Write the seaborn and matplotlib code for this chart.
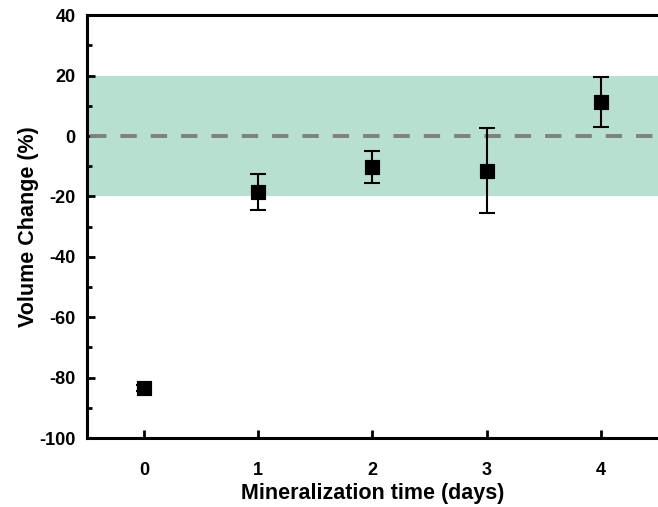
import numpy as np
import matplotlib
matplotlib.use("Agg")
import matplotlib.pyplot as plt
import seaborn as sns
from matplotlib.ticker import MultipleLocator

# data
days = [0, 1, 2, 3, 4]
volume_change = [-83.5, -18.5, -10.3, -11.5, 11.3]
volume_err = [1.0, 6.0, 5.3, 14.0, 8.2]

sns.set_style("ticks")
plt.rcParams["font.family"] = ["Liberation Sans", "DejaVu Sans"]
plt.rcParams["font.weight"] = "bold"
plt.rcParams["axes.unicode_minus"] = False
plt.rcParams["axes.edgecolor"] = "black"
plt.rcParams["xtick.color"] = "black"
plt.rcParams["ytick.color"] = "black"
plt.rcParams["text.color"] = "black"
plt.rcParams["axes.labelcolor"] = "black"

fig = plt.figure(figsize=(6.58, 5.07), dpi=100)
ax = fig.add_axes([0.132, 0.136, 0.868, 0.834])

# acceptable range band and zero line
ax.axhspan(-20, 20, color="#b7e0d0", zorder=0, lw=0)
ax.axhline(0, color="#808080", ls=(7, (4.2, 3.6)), lw=2.8, zorder=1)

ax.errorbar(days, volume_change, yerr=volume_err, fmt="none",
            ecolor="black", elinewidth=1.5, capsize=5.5, capthick=1.5, zorder=2)
sns.scatterplot(x=days, y=volume_change, marker="s", color="black",
                s=110, edgecolor="black", ax=ax, zorder=3)

ax.set_xlim(-0.5, 4.5)
ax.set_ylim(-100, 40)
ax.set_xticks(days)
ax.yaxis.set_major_locator(MultipleLocator(20))
ax.yaxis.set_minor_locator(MultipleLocator(10))

ax.tick_params(axis="both", which="major", direction="in", length=6, width=2,
               labelsize=13, pad=8, colors="black")
ax.tick_params(axis="x", which="major", pad=17)
ax.tick_params(axis="y", which="minor", direction="in", length=3.5, width=2)

for side in ["left", "bottom", "top"]:
    ax.spines[side].set_linewidth(2.2)
    ax.spines[side].set_color("black")
    ax.spines[side].set_visible(True)
ax.spines["right"].set_visible(False)

for lbl in ax.get_xticklabels() + ax.get_yticklabels():
    lbl.set_fontweight("bold")

ax.set_xlabel("Mineralization time (days)", fontsize=15.5, fontweight="bold", labelpad=3)
ax.set_ylabel("Volume Change (%)", fontsize=15.5, fontweight="bold", labelpad=0)

plt.savefig("out.png", dpi=100)
